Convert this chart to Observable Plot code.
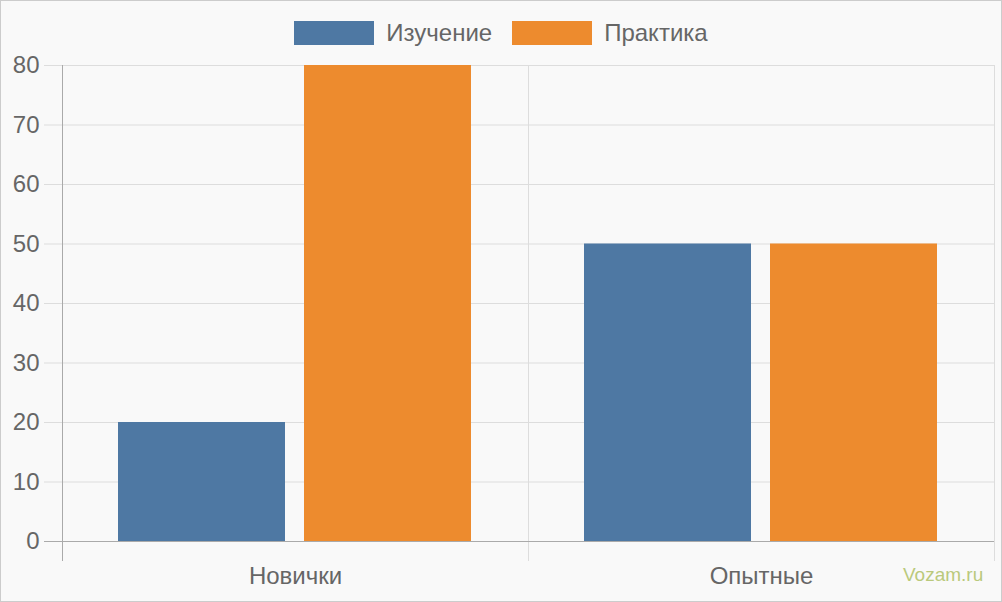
<!DOCTYPE html>
<html>
<head>
<meta charset="utf-8">
<script src="https://cdn.jsdelivr.net/npm/d3@7"></script>
<script src="https://cdn.jsdelivr.net/npm/@observablehq/plot@0.6"></script>
<style>
  html, body { margin: 0; padding: 0; background: #f9f9f9; }
  #wrap { position: relative; width: 1002px; height: 602px; box-sizing: border-box; border: 1px solid #cccccc; background: #f9f9f9; overflow: hidden; font-family: "Liberation Sans", Arial, sans-serif; }
  #legend { height: 45px; display: flex; justify-content: center; align-items: flex-start; padding-top: 20px; box-sizing: border-box; }
  .item { display: flex; align-items: center; margin: 0 10px; }
  .sw { width: 80px; height: 24px; margin-right: 12px; }
  .lab { font-size: 24px; line-height: 24px; color: #666; }
  #mark { position: absolute; left: 902px; top: 563px; font-size: 19px; line-height: 21px; color: #bac97c; }
  svg { display: block; }
</style>
</head>
<body>
<div id="wrap">
  <div id="legend"></div>
  <div id="chart"></div>
  <div id="mark">Vozam.ru</div>
</div>
<script>
const categories = ["Новички", "Опытные"];
const seriesNames = ["Изучение", "Практика"];
const studyValues = [20, 50];
const practiceValues = [80, 50];
const yTicks = [0, 10, 20, 30, 40, 50, 60, 70, 80];
const seriesColors = ["#4e78a3", "#ed8b2e"];

const data = categories.flatMap((c, i) => [
  {category: c, series: seriesNames[0], value: studyValues[i]},
  {category: c, series: seriesNames[1], value: practiceValues[i]}
]);

// Legend
const legend = d3.select("#legend");
seriesNames.forEach((s, i) => {
  const it = legend.append("div").attr("class", "item");
  it.append("div").attr("class", "sw").style("background", seriesColors[i]);
  it.append("span").attr("class", "lab").text(s);
});

const chart = Plot.plot({
  width: 1000,
  height: 555,
  marginLeft: 60,
  marginRight: 7,
  marginTop: 19,
  marginBottom: 40,
  style: {background: "transparent", fontFamily: "'Liberation Sans', Arial, sans-serif", fontSize: "24px", color: "#666", overflow: "visible"},
  fx: {domain: categories, padding: 0},
  x: {domain: seriesNames, paddingInner: 0.1, paddingOuter: 0.3, axis: null},
  y: {domain: [0, 80], insetBottom: 20},
  color: {domain: seriesNames, range: seriesColors},
  marks: [
    Plot.gridY(yTicks, {stroke: "#dddddd", strokeOpacity: 1}),
    Plot.axisY(yTicks, {tickSize: 18, tickPadding: 5, stroke: "#dddddd", fill: "#666", label: null, fontSize: 24}),
    Plot.barY(data, {fx: "category", x: "series", y: "value", fill: "series"}),
    Plot.ruleY([0], {stroke: "#aaaaaa", insetLeft: -18}),
    Plot.axisFx({anchor: "bottom", tickSize: 0, tickPadding: 5, label: null, fill: "#666", fontSize: 24})
  ]
});
document.getElementById("chart").appendChild(chart);

// vertical category grid lines at band edges, from the library's scales
const fx = chart.scale("fx");
const y = chart.scale("y");
const edges = categories.map(c => fx.apply(c)).concat([fx.apply(categories[categories.length - 1]) + fx.bandwidth]);
const yTop = y.apply(80);
const yBot = y.apply(0) + 20;
const svg = d3.select(chart);
const g = svg.insert("g", ":first-child");
edges.forEach((x) => {
  g.append("line")
    .attr("x1", Math.round(x) + 0.5).attr("x2", Math.round(x) + 0.5)
    .attr("y1", yTop).attr("y2", yBot)
    .attr("stroke", "#dddddd");
});
svg.append("line")
  .attr("x1", Math.round(edges[0]) + 0.5).attr("x2", Math.round(edges[0]) + 0.5)
  .attr("y1", yTop).attr("y2", yBot)
  .attr("stroke", "#aaaaaa");
</script>
</body>
</html>
